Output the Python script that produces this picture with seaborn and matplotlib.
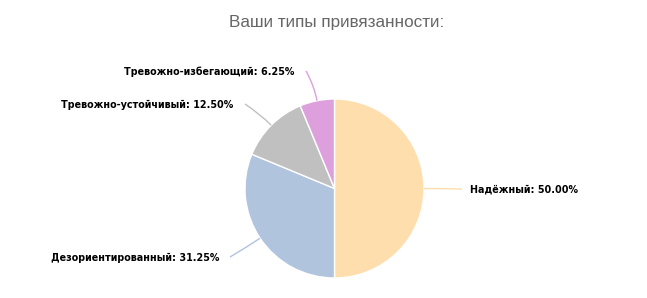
import numpy as np
import matplotlib
matplotlib.use("Agg")
import matplotlib.pyplot as plt
from matplotlib.path import Path
from matplotlib.patches import PathPatch
import seaborn as sns

# ---- data ----
categories = ["Надёжный", "Дезориентированный", "Тревожно-устойчивый", "Тревожно-избегающий"]
values = [50.00, 31.25, 12.50, 6.25]
colors = ["#FFDEAD", "#B0C4DE", "#C0C0C0", "#DDA0DD"]
title = "Ваши типы привязанности:"

sns.set_theme(style="white")
plt.rcParams['font.family'] = ['DejaVu Sans']

W, H = 647, 298
fig = plt.figure(figsize=(W / 100, H / 100), dpi=100)
ax = fig.add_axes([0, 0, 1, 1])

cx, cy, R = 334.5, H - 188.5, 89.5
wedges, _ = ax.pie(values, colors=colors, startangle=90, counterclock=False,
                   center=(cx, cy), radius=R,
                   wedgeprops=dict(edgecolor="white", linewidth=1.0))
ax.set_xlim(0, W)
ax.set_ylim(0, H)
ax.set_aspect("equal")
ax.axis("off")

# label anchors (end of connector) in pixel coords (y down) and alignment
anchors = [(462, 189, "left"), (230, 257, "right"), (245, 104, "right"), (306, 71, "right")]
text_gap = [8, 11, 12, 12]

for w, cat, val, col, (axp, ayp, ha), gap in zip(wedges, categories, values, colors, anchors, text_gap):
    ang = np.deg2rad((w.theta1 + w.theta2) / 2)
    dx, dy = np.cos(ang), np.sin(ang)
    p0 = (cx + R * dx, cy + R * dy)
    p1 = (cx + (R + 16) * dx, cy + (R + 16) * dy)
    p2 = (axp, H - ayp)
    path = Path([p0, p1, p2], [Path.MOVETO, Path.CURVE3, Path.CURVE3])
    ax.add_patch(PathPatch(path, facecolor="none", edgecolor=col, linewidth=1.0))
    tx = p2[0] + gap if ha == "left" else p2[0] - gap
    ax.text(tx, p2[1] - 1, f"{cat}: {val:.2f}%", ha=ha, va="center",
            fontsize=6.9, fontweight="bold", color="#000000")

fig.text(337 / W, 1 - 23 / H, title, ha="center", va="center",
         fontsize=12.3, color="#666666", family=["Liberation Sans", "DejaVu Sans"])

fig.savefig("out.png", dpi=100)
